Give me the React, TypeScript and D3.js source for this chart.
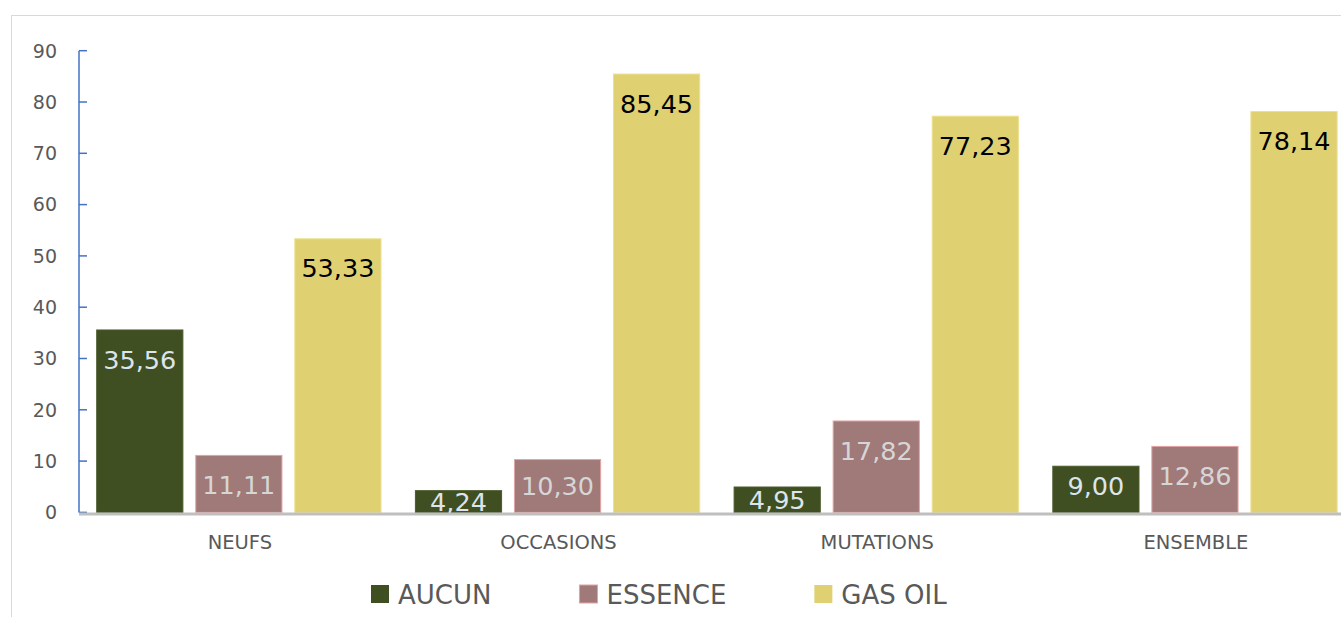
import React, { useEffect, useRef } from 'react';
import * as d3 from 'd3';

const categories = ['NEUFS', 'OCCASIONS', 'MUTATIONS', 'ENSEMBLE'];
const seriesNames = ['AUCUN', 'ESSENCE', 'GAS OIL'];
const aucun = [35.56, 4.24, 4.95, 9.0];
const essence = [11.11, 10.3, 17.82, 12.86];
const gasOil = [53.33, 85.45, 77.23, 78.14];
const yTicks = [0, 10, 20, 30, 40, 50, 60, 70, 80, 90];

const fills = ['#3f4f21', '#a07979', '#dfd072'];
const strokes = ['#4b5b2c', '#e2a3a3', '#ece08e'];
const labelColors = ['#dde4ec', '#d6d6d6', '#000000'];

const FONT = 'DejaVu Sans, sans-serif';

function App() {
  const svgRef = useRef<SVGSVGElement>(null);

  useEffect(() => {
    const svg = d3.select(svgRef.current);
    svg.selectAll('*').remove();

    const values = [aucun, essence, gasOil];

    const x0 = d3
      .scaleBand()
      .domain(categories)
      .range([79.5, 1354.3])
      .paddingInner(0.108)
      .paddingOuter(0.054);

    const x1 = d3
      .scaleBand()
      .domain(seriesNames)
      .range([0, x0.bandwidth()])
      .paddingInner(0.13)
      .paddingOuter(0);

    const y = d3.scaleLinear().domain([0, 90]).range([512.4, 50.7]);

    // chart frame
    svg.append('rect')
      .attr('x', 11.5)
      .attr('y', 15.5)
      .attr('width', 1400)
      .attr('height', 700)
      .attr('fill', '#fff')
      .attr('stroke', '#d9d9d9')
      .attr('stroke-width', 1);

    // y axis
    const yAxis = svg.append('g');
    yAxis.append('line')
      .attr('x1', 79).attr('x2', 79)
      .attr('y1', y(90)).attr('y2', y(0))
      .attr('stroke', '#4472c4')
      .attr('stroke-width', 1.5);
    yAxis.selectAll('line.tick')
      .data(yTicks)
      .enter()
      .append('line')
      .attr('class', 'tick')
      .attr('x1', 79).attr('x2', 87)
      .attr('y1', (d) => y(d)).attr('y2', (d) => y(d))
      .attr('stroke', '#4472c4')
      .attr('stroke-width', 1.5);
    yAxis.selectAll('text')
      .data(yTicks)
      .enter()
      .append('text')
      .attr('x', 57)
      .attr('y', (d) => y(d))
      .attr('dy', '0.36em')
      .attr('text-anchor', 'end')
      .attr('font-family', FONT)
      .attr('font-size', 19)
      .attr('fill', '#595959')
      .text((d) => String(d));

    // bars
    const groups = svg.selectAll('g.cat')
      .data(categories)
      .enter()
      .append('g')
      .attr('class', 'cat')
      .attr('transform', (d) => `translate(${x0(d)},0)`);

    groups.each(function (cat, ci) {
      const g = d3.select(this);
      seriesNames.forEach((s, si) => {
        const v = values[si][ci];
        const top = y(v);
        const h = y(0) - top;
        g.append('rect')
          .attr('x', x1(s)!)
          .attr('y', top)
          .attr('width', x1.bandwidth())
          .attr('height', h)
          .attr('fill', fills[si])
          .attr('stroke', strokes[si])
          .attr('stroke-width', 1);

        // inside-end label, pulled down/centred when the bar is short
        let off = 29.5;
        if (h < 40) off = h / 2 + 0.5;
        else if (h < 56) off = h - 26.5;
        g.append('text')
          .attr('x', x1(s)! + x1.bandwidth() / 2)
          .attr('y', top + off + 9.1)
          .attr('text-anchor', 'middle')
          .attr('font-family', FONT)
          .attr('font-size', 25.5)
          .attr('fill', labelColors[si])
          .text(d3.format('.2f')(v).replace('.', ','));
      });
    });

    // baseline
    svg.append('line')
      .attr('x1', 79).attr('x2', 1341)
      .attr('y1', y(0) + 1.5).attr('y2', y(0) + 1.5)
      .attr('stroke', '#bfbfbf')
      .attr('stroke-width', 3);

    // category labels
    svg.selectAll('text.cat')
      .data(categories)
      .enter()
      .append('text')
      .attr('class', 'cat')
      .attr('x', (d) => x0(d)! + x0.bandwidth() / 2 + 1)
      .attr('y', 549)
      .attr('text-anchor', 'middle')
      .attr('font-family', FONT)
      .attr('font-size', 19.5)
      .attr('fill', '#595959')
      .text((d) => d);

    // legend
    let lx = 371;
    seriesNames.forEach((s, si) => {
      svg.append('rect')
        .attr('x', lx)
        .attr('y', 585)
        .attr('width', 18)
        .attr('height', 18)
        .attr('fill', fills[si])
        .attr('stroke', si === 1 ? '#e2a3a3' : 'none');
      const t = svg.append('text')
        .attr('x', lx + 27)
        .attr('y', 603.5)
        .attr('font-family', FONT)
        .attr('font-size', 26)
        .attr('fill', '#595959')
        .text(s);
      const w = (t.node() as SVGTextElement).getComputedTextLength();
      lx = lx + 27 + w + 88;
    });
  }, []);

  return (
    <svg
      ref={svgRef}
      width={1341}
      height={617}
      style={{ position: 'absolute', left: 0, top: 0, background: '#fff' }}
    />
  );
}

export default App;
